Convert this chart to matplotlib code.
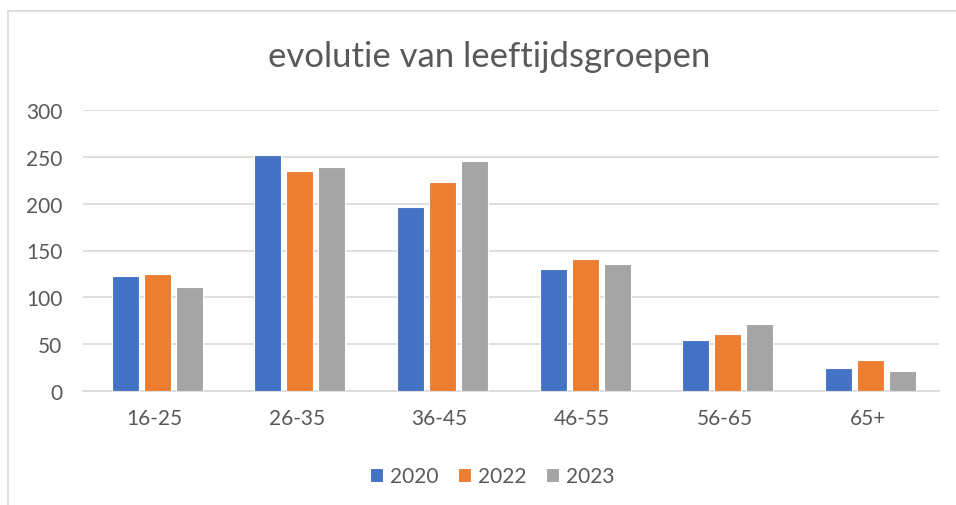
import matplotlib.pyplot as plt
import numpy as np
from matplotlib.patches import Rectangle

plt.rcParams['font.family'] = ['Lato', 'DejaVu Sans']

categories = ['16-25', '26-35', '36-45', '46-55', '56-65', '65+']
years = ['2020', '2022', '2023']
values_2020 = [123, 252, 196, 130, 54, 25]
values_2022 = [125, 235, 223, 141, 61, 33]
values_2023 = [111, 239, 246, 136, 72, 21]
colors = ['#4472C4', '#ED7D31', '#A5A5A5']

W, H = 956, 506
fig = plt.figure(figsize=(W / 100, H / 100), dpi=100)

# chart frame
fig.patches.append(Rectangle((8 / W, -0.1), 1.2, 1 - 12 / H + 0.1,
                             transform=fig.transFigure, fill=False,
                             edgecolor='#D9D9D9', lw=1.2))

ax = fig.add_axes([83 / W, 1 - 392 / H, 856 / W, 281 / H])

x = np.arange(len(categories))
pitch = 0.224
width = 0.19
for i, (vals, c, lab) in enumerate(zip([values_2020, values_2022, values_2023], colors, years)):
    ax.bar(x + (i - 1) * pitch + 0.02, vals, width, color=c, label=lab,
           edgecolor='white', linewidth=0.8, zorder=3)

ax.set_xlim(-0.5, len(categories) - 0.5)
ax.set_ylim(0, 300)
ax.set_yticks(range(0, 301, 50))
ax.set_xticks(x)
ax.set_xticklabels(categories)
ax.grid(axis='y', color='#D9D9D9', lw=1.2, zorder=0)
for s in ['top', 'right', 'left']:
    ax.spines[s].set_visible(False)
ax.spines['bottom'].set_color('#D9D9D9')
ax.spines['bottom'].set_linewidth(1.2)
ax.tick_params(length=0, labelsize=15, colors='#595959')
ax.tick_params(axis='x', pad=12)
ax.tick_params(axis='y', pad=15)

fig.text(489 / W, 1 - 57 / H, 'evolutie van leeftijdsgroepen', ha='center', va='center',
         fontsize=25, color='#595959')

leg = fig.legend(loc='center', bbox_to_anchor=(492 / W, 1 - 477 / H), ncol=3, frameon=False,
                 fontsize=15, handlelength=0.65, handleheight=0.65, handletextpad=0.3,
                 columnspacing=0.95, labelcolor='#595959')

fig.savefig('out.png', dpi=100)
